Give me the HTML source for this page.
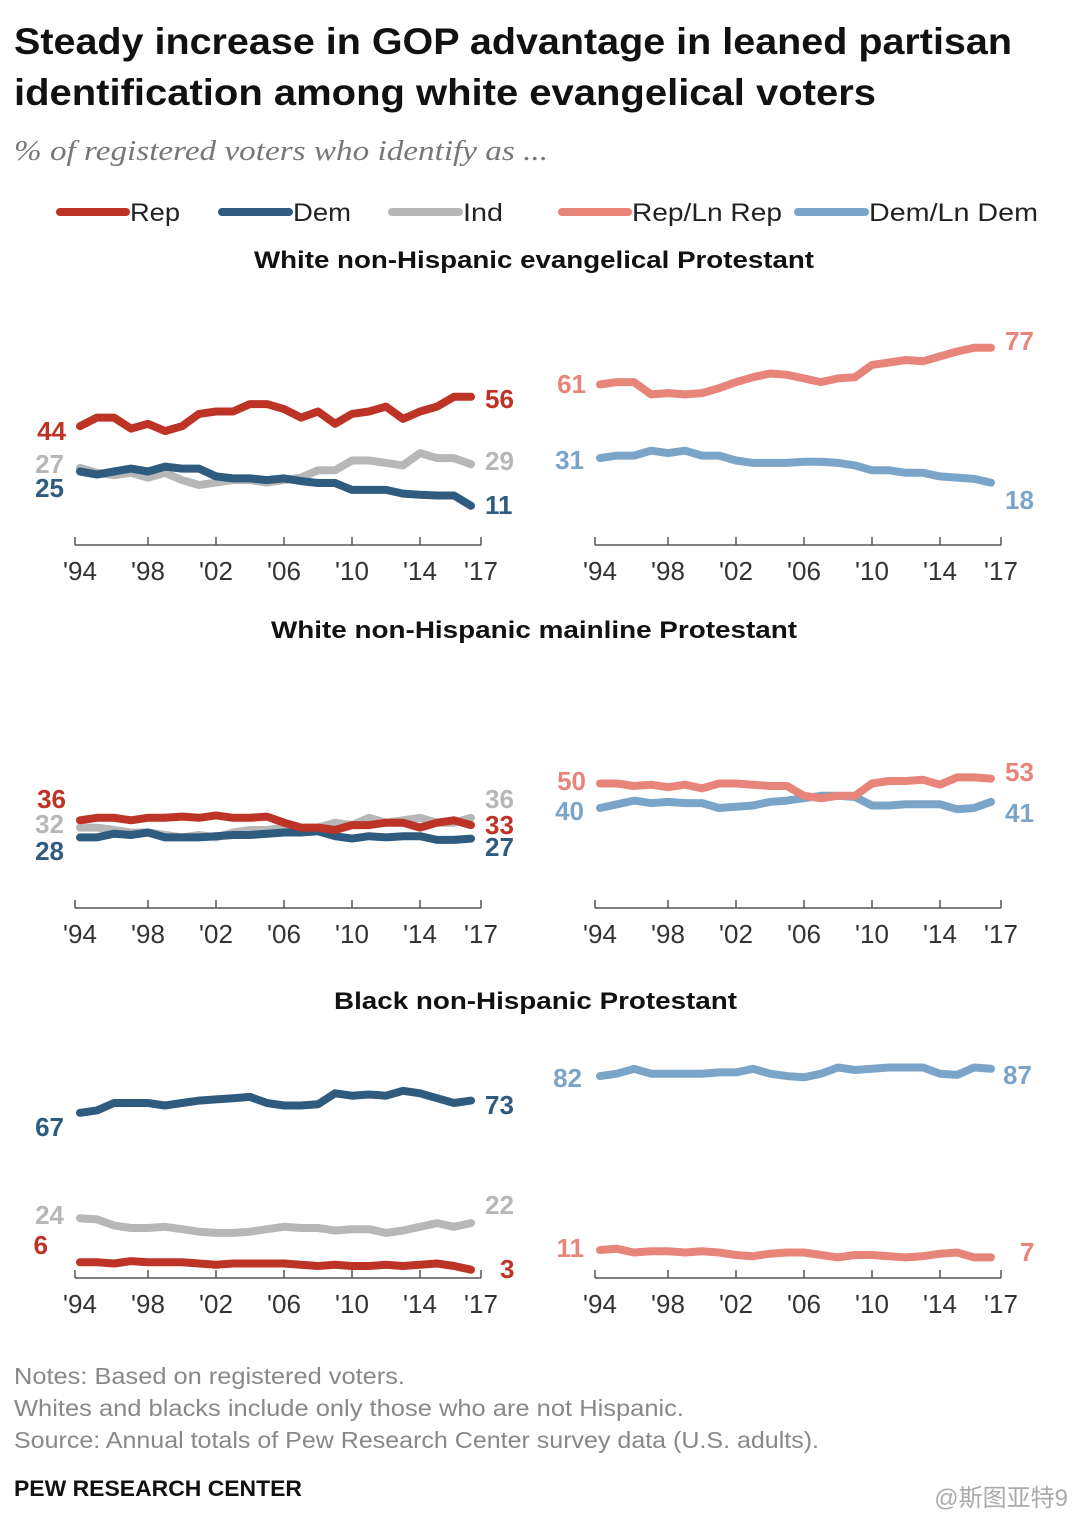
<!DOCTYPE html>
<html><head><meta charset="utf-8">
<style>
body{margin:0;background:#fff;}
svg{display:block;font-family:"Liberation Sans","Noto Sans CJK SC",sans-serif;}
</style></head>
<body>
<svg id="c" width="1080" height="1523" viewBox="0 0 1080 1523">
<text x="14" y="54" font-size="37" font-weight="bold" fill="#111" textLength="998" lengthAdjust="spacingAndGlyphs">Steady increase in GOP advantage in leaned partisan</text>
<text x="14" y="105" font-size="37" font-weight="bold" fill="#111" textLength="862" lengthAdjust="spacingAndGlyphs">identification among white evangelical voters</text>
<text x="14" y="160" font-size="28" font-style="italic" font-family="Liberation Serif,serif" fill="#777" textLength="534" lengthAdjust="spacingAndGlyphs">% of registered voters who identify as ...</text>
<g id="legend"></g>
<text x="254" y="268" font-size="24" font-weight="bold" fill="#111" textLength="560" lengthAdjust="spacingAndGlyphs">White non-Hispanic evangelical Protestant</text>
<text x="271" y="638" font-size="24" font-weight="bold" fill="#111" textLength="526" lengthAdjust="spacingAndGlyphs">White non-Hispanic mainline Protestant</text>
<text x="334" y="1009" font-size="24" font-weight="bold" fill="#111" textLength="403" lengthAdjust="spacingAndGlyphs">Black non-Hispanic Protestant</text>
<g id="plots"></g>
<text x="14" y="1384" font-size="23" fill="#888" textLength="391" lengthAdjust="spacingAndGlyphs">Notes: Based on registered voters.</text>
<text x="14" y="1416" font-size="23" fill="#888" textLength="670" lengthAdjust="spacingAndGlyphs">Whites and blacks include only those who are not Hispanic.</text>
<text x="14" y="1448" font-size="23" fill="#888" textLength="805" lengthAdjust="spacingAndGlyphs">Source: Annual totals of Pew Research Center survey data (U.S. adults).</text>
<text x="14" y="1496" font-size="22" font-weight="bold" fill="#111" textLength="288" lengthAdjust="spacingAndGlyphs">PEW RESEARCH CENTER</text>
<text x="1068" y="1506" font-size="24" text-anchor="end" fill="#aaa">@斯图亚特9</text>
</svg>
<script>
const years=[1994,1995,1996,1997,1998,1999,2000,2001,2002,2003,2004,2005,2006,2007,2008,2009,2010,2011,2012,2013,2014,2015,2016,2017];
const tickLabels=["'94","'98","'02","'06","'10","'14","'17"];
const tickYears=[1994,1998,2002,2006,2010,2014,2017];
const legendLabels=["Rep","Dem","Ind","Rep/Ln Rep","Dem/Ln Dem"];
// Panel 1: evangelical
const evRep=[44,47.5,47.5,43,45,42,44,49,50,50,53,53,51,47.5,50,45,49,50,52,47,50,52,56,56];
const evDem=[25.5,24.3,25.5,26.7,25.5,27.5,26.7,26.7,23.5,22.7,22.7,22,22.7,21.6,20.8,20.8,18,18,18,16.5,16,15.7,15.7,11.5];
const evInd=[27,25,24,25,23,25,22,20,21,22,22,21,22,23,26,26,30,30,29,28,33,31,31,28.5];
const evRepLn=[61,62,62,57,57.5,57,57.5,59.5,62,64,65.5,65,63.5,62,63.5,64,69,70,71,70.5,72.5,74.5,76,76];
const evDemLn=[31,32,32,34,33,34,32,32,30,29,29,29,29.5,29.5,29,28,26,26,25,25,23.5,23,22.5,21];
// Panel 2: mainline
const mlRep=[35,36,36,35,36,36,36.5,36,37,36,36,36.5,34,32,32,31,33,33,34,34,32,34,35,33];
const mlDem=[28,28,29.5,29,30,28,28,28,28.5,29,29,29.5,30,30,30.5,28.5,27.5,28.5,28,28.5,28.5,27,27,27.5];
const mlInd=[32,32,31,30,30,29,28,29,28,30,31,31,32,32,32,34,33,36,34,35,36,34,34,36];
const mlRepLn=[50,50,49,49.5,48.5,49.5,48,50,50,49.5,49,49,45,44,45,45,50,51,51,51.5,49.5,52.5,52.5,52];
const mlDemLn=[40,41.5,43,42,42.5,42,42,40,40.5,41,42.5,43,44,45,45,44.5,41,41,41.5,41.5,41.5,39.5,40,42.5];
// Panel 3: black
const bkDem=[67,68,71,71,71,70,71,72,72.5,73,73.5,71,70,70,70.5,75,74,74.5,74,76,75,73,71,72];
const bkInd=[24,23.5,21,20,20,20.5,19.5,18.5,18,18,18.5,19.5,20.5,20,20,19,19.5,19.5,18,19,20.5,22,20.5,22];
const bkRep=[6,6,5.5,6.5,6,6,6,5.5,5,5.5,5.5,5.5,5.5,5,4.5,5,4.5,4.5,5,4.5,5,5.5,4.5,3];
const bkRepLn=[11,11.5,10,10.5,10.5,10,10.5,10,9,8.5,9.5,10,10,9,8,9,9,8.5,8,8.5,9.5,10,8,8];
const bkDemLn=[82,83,85,83,83,83,83,83.5,83.5,85,83,82,81.5,83,85.5,84.5,85,85.5,85.5,85.5,83,82.5,85.5,85];

const C={rep:"#bd3326",dem:"#2f5b7f",ind:"#b7b7b7",repln:"#e8857a",demln:"#7ba5c8"};
const NS="http://www.w3.org/2000/svg";
const plots=document.getElementById('plots');
const K=2.45;
function mk(tag,attrs,parent){const e=document.createElementNS(NS,tag);for(const k in attrs)e.setAttribute(k,attrs[k]);(parent||plots).appendChild(e);return e;}
function xs(x0){return y=>x0+17*(y-1994);}
function line(data,x,y,col,name){
  const d=data.map((v,i)=>(i?'L':'M')+x(years[i]).toFixed(1)+','+y(v).toFixed(1)).join('');
  const p=mk('path',{d:d,fill:'none',stroke:col,'stroke-width':8,'stroke-linejoin':'round','stroke-linecap':'round'});
  
  
}
function axis(x,ay,name){
  const g=mk('g',{});
  
  
  mk('line',{x1:x(1994)-5,x2:x(2017)+10,y1:ay,y2:ay,stroke:'#555','stroke-width':1.5},g);
  tickYears.forEach((t,i)=>{
    const tx=i==0?x(t)-5:(i==tickYears.length-1?x(t)+10:x(t));
    mk('line',{x1:tx,x2:tx,y1:ay-8,y2:ay,stroke:'#555','stroke-width':1.5},g);
    const tl=mk('text',{x:i==tickYears.length-1?x(t)+10:x(t),y:ay+35,'font-size':26,fill:'#333','text-anchor':'middle'},g);
    tl.textContent=tickLabels[i];
    
    
  });
}
function lab(x,y,t,col,anchor,name){
  const e=mk('text',{x:x,y:y,'font-size':26,'font-weight':'bold',fill:col,'text-anchor':anchor||'start'});
  e.textContent=t;
  
  
}
const xl=xs(80), xr=xs(600);
let yz=v=>534-K*v;
axis(xl,545,'x-axis-evangelical-left');axis(xr,545,'x-axis-evangelical-right');
line(evInd,xl,yz,C.ind,'line-ev-ind');line(evDem,xl,yz,C.dem,'line-ev-dem');line(evRep,xl,yz,C.rep,'line-ev-rep');
line(evDemLn,xr,yz,C.demln,'line-ev-demln');line(evRepLn,xr,yz,C.repln,'line-ev-repln');
lab(66,440,'44',C.rep,'end','label-ev-rep-start');lab(485,408,'56',C.rep,'start','label-ev-rep-end');
lab(64,473,'27',C.ind,'end','label-ev-ind-start');lab(485,470,'29',C.ind,'start','label-ev-ind-end');
lab(64,497,'25',C.dem,'end','label-ev-dem-start');lab(485,514,'11',C.dem,'start','label-ev-dem-end');
lab(586,393,'61',C.repln,'end','label-ev-repln-start');lab(1005,350,'77',C.repln,'start','label-ev-repln-end');
lab(584,469,'31',C.demln,'end','label-ev-demln-start');lab(1005,509,'18',C.demln,'start','label-ev-demln-end');
yz=v=>906-K*v;
axis(xl,908,'x-axis-mainline-left');axis(xr,908,'x-axis-mainline-right');
line(mlInd,xl,yz,C.ind,'line-ml-ind');line(mlDem,xl,yz,C.dem,'line-ml-dem');line(mlRep,xl,yz,C.rep,'line-ml-rep');
line(mlDemLn,xr,yz,C.demln,'line-ml-demln');line(mlRepLn,xr,yz,C.repln,'line-ml-repln');
lab(66,808,'36',C.rep,'end','label-ml-rep-start');lab(485,834,'33',C.rep,'start','label-ml-rep-end');
lab(64,833,'32',C.ind,'end','label-ml-ind-start');lab(485,808,'36',C.ind,'start','label-ml-ind-end');
lab(64,860,'28',C.dem,'end','label-ml-dem-start');lab(485,856,'27',C.dem,'start','label-ml-dem-end');
lab(586,790,'50',C.repln,'end','label-ml-repln-start');lab(1005,781,'53',C.repln,'start','label-ml-repln-end');
lab(584,820,'40',C.demln,'end','label-ml-demln-start');lab(1005,822,'41',C.demln,'start','label-ml-demln-end');
yz=v=>1277-K*v;
axis(xl,1278,'x-axis-black-left');axis(xr,1278,'x-axis-black-right');
line(bkInd,xl,yz,C.ind,'line-bk-ind');line(bkRep,xl,yz,C.rep,'line-bk-rep');line(bkDem,xl,yz,C.dem,'line-bk-dem');
line(bkRepLn,xr,yz,C.repln,'line-bk-repln');line(bkDemLn,xr,yz,C.demln,'line-bk-demln');
lab(64,1136,'67',C.dem,'end','label-bk-dem-start');lab(485,1114,'73',C.dem,'start','label-bk-dem-end');
lab(64,1224,'24',C.ind,'end','label-bk-ind-start');lab(485,1214,'22',C.ind,'start','label-bk-ind-end');
lab(48,1254,'6',C.rep,'end','label-bk-rep-start');lab(500,1278,'3',C.rep,'start','label-bk-rep-end');
lab(582,1087,'82',C.demln,'end','label-bk-demln-start');lab(1003,1084,'87',C.demln,'start','label-bk-demln-end');
lab(584,1257,'11',C.repln,'end','label-bk-repln-start');lab(1020,1261,'7',C.repln,'start','label-bk-repln-end');
const lg=document.getElementById('legend');
const legX=[[60,130,50],[222,293,58],[392,463,40],[562,632,150],[798,869,169]];
const legC=[C.rep,C.dem,C.ind,C.repln,C.demln];
legendLabels.forEach((t,i)=>{
  const g=mk('g',{},lg);
  
  
  mk('line',{x1:legX[i][0],x2:legX[i][1]-4,y1:212,y2:212,stroke:legC[i],'stroke-width':8,'stroke-linecap':'round'},g);
  const tx=mk('text',{x:legX[i][1],y:221,'font-size':25,fill:'#222',textLength:legX[i][2],lengthAdjust:'spacingAndGlyphs'},g);
  tx.textContent=t;
  
  
});
</script>
</body></html>
